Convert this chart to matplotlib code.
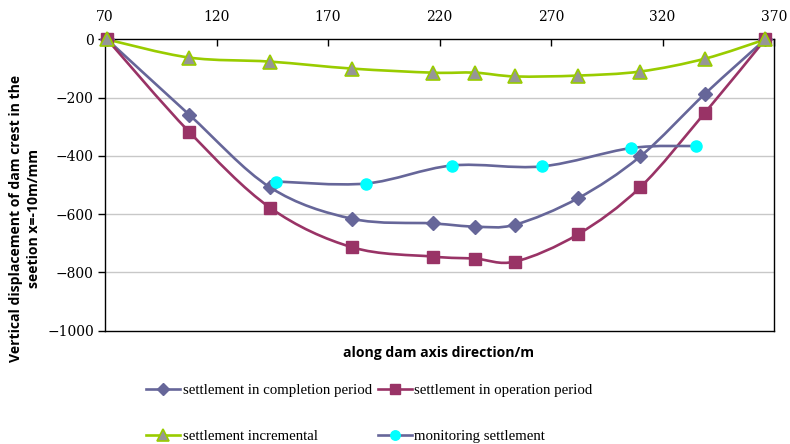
import matplotlib
matplotlib.use("Agg")
import matplotlib.pyplot as plt
from matplotlib.path import Path
from matplotlib.patches import PathPatch
from matplotlib.lines import Line2D

# ---- data ----
x_main = [71, 107.7, 144, 180.8, 217, 236, 254, 282, 310, 339, 366]
completion = [0, -258, -508, -616, -632, -643, -636, -546, -402, -187, 0]
operation = [0, -317, -578, -714, -746, -753, -763, -670, -508, -252, 0]
incremental = [0, -62, -76, -100, -114, -114, -127, -124, -110, -66, 0]
x_monitor = [146.8, 187, 225.6, 266, 306, 335]
monitoring = [-488, -495, -433, -436, -373, -366]

x_ticks = [70, 120, 170, 220, 270, 320, 370]
y_ticks = [0, -200, -400, -600, -800, -1000]

labels = ["settlement in completion period", "settlement in operation period",
          "settlement incremental", "monitoring settlement"]

c_comp = "#666699"
c_oper = "#993366"
c_incr = "#99CC00"
c_mon = "#00FFFF"

serif_tick = "DejaVu Serif"
serif = "Liberation Serif"
sans = "Open Sans"


def smooth_path(xs, ys):
    pts = list(zip(xs, ys))
    n = len(pts)
    verts = [pts[0]]
    codes = [Path.MOVETO]
    for i in range(n - 1):
        p0 = pts[i - 1] if i > 0 else pts[i]
        p1 = pts[i]
        p2 = pts[i + 1]
        p3 = pts[i + 2] if i + 2 < n else pts[i + 1]
        c1 = (p1[0] + (p2[0] - p0[0]) / 6.0, p1[1] + (p2[1] - p0[1]) / 6.0)
        c2 = (p2[0] - (p3[0] - p1[0]) / 6.0, p2[1] - (p3[1] - p1[1]) / 6.0)
        verts += [c1, c2, p2]
        codes += [Path.CURVE4] * 3
    return Path(verts, codes)


fig = plt.figure(figsize=(7.9, 4.44), dpi=100)
ax = fig.add_axes([105 / 790, 1 - 330.5 / 444, (774 - 105) / 790, (330.5 - 39.5) / 444])

ax.set_xlim(70, 370)
ax.set_ylim(-1000, 0)

for yv in y_ticks[1:-1]:
    ax.axhline(yv, color="#c8c8c8", lw=1.0, zorder=0)

lw = 1.9
series = [
    (x_main, completion, c_comp, dict(marker="D", markersize=7.5, markerfacecolor=c_comp, markeredgecolor=c_comp)),
    (x_main, operation, c_oper, dict(marker="s", markersize=8, markerfacecolor=c_oper, markeredgecolor=c_oper)),
    (x_main, incremental, c_incr, dict(marker="^", markersize=10, markerfacecolor="#969696", markeredgecolor=c_incr, markeredgewidth=1.2)),
    (x_monitor, monitoring, c_comp, dict(marker="o", markersize=8, markerfacecolor=c_mon, markeredgecolor=c_mon)),
]

for xs, ys, col, mk in series:
    ax.add_patch(PathPatch(smooth_path(xs, ys), facecolor="none", edgecolor=col, lw=lw, zorder=2))
for xs, ys, col, mk in series:
    ax.plot(xs, ys, linestyle="none", zorder=3, clip_on=False, **mk)

ax.set_xticks(x_ticks)
ax.set_yticks(y_ticks)
ax.xaxis.set_ticks_position("top")
ax.tick_params(axis="x", direction="in", length=5, width=1, labelsize=10, pad=11)
ax.tick_params(axis="y", direction="out", length=5, width=1, labelsize=10, pad=3)
for lab in ax.get_xticklabels() + ax.get_yticklabels():
    lab.set_fontfamily(serif_tick)

for s in ax.spines.values():
    s.set_color("black")
    s.set_linewidth(1.0)

fig.text(439 / 790, 1 - 353 / 444, "along dam axis direction/m", fontsize=10.1,
         fontweight="bold", fontfamily=sans, ha="center", va="center")
fig.text(25 / 790, 1 - 218 / 444, "Vertical displacement of dam crest in the\nseetion x=-10m/mm",
         fontsize=10.1, fontweight="bold", fontfamily=sans, rotation=90,
         ha="center", va="center", multialignment="center", linespacing=1.35)

handles = []
for (xs, ys, col, mk), lab in zip(series, labels):
    h = Line2D([], [], color=col, lw=lw, **{k: v for k, v in mk.items()})
    h.set_markersize(mk["markersize"] * 0.85)
    handles.append(h)

order = [0, 2, 1, 3]
leg = fig.legend([handles[i] for i in order], [labels[i] for i in order],
                 ncol=2, loc="upper left", bbox_to_anchor=(146 / 790, 1 - 384 / 444),
                 frameon=False, borderpad=0, borderaxespad=0,
                 prop={"family": serif, "size": 10.75},
                 handlelength=2.3, handletextpad=0.15, columnspacing=0.4,
                 labelspacing=2.15)

fig.savefig("out.png", dpi=100)
